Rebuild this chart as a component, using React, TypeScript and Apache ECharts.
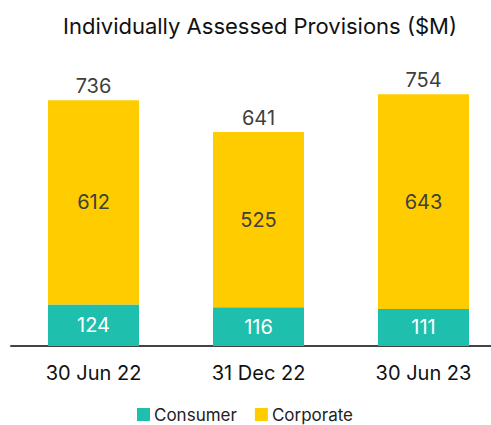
import React, { useEffect, useRef } from "react";
import * as echarts from "echarts";

const categories = ["30 Jun 22", "31 Dec 22", "30 Jun 23"];
const consumer = [124, 116, 111];
const corporate = [612, 525, 643];
const totals = [736, 641, 754];

const FONT = "Inter, 'Noto Sans', sans-serif";

export default function App() {
  const ref = useRef<HTMLDivElement>(null);
  useEffect(() => {
    if (!ref.current) return;
    const chart = echarts.init(ref.current, null, { renderer: "svg" });
    chart.setOption({
      animation: false,
      title: {
        text: "Individually Assessed Provisions ($M)",
        left: 255,
        textAlign: "center",
        top: 10,
        textStyle: { fontFamily: FONT, fontSize: 22, fontWeight: "normal", color: "#111" },
      },
      legend: {
        left: 132,
        top: 401,
        itemWidth: 13,
        itemHeight: 13,
        itemGap: 18,
        icon: "rect",
        data: ["Consumer", "Corporate"],
        textStyle: { fontFamily: FONT, fontSize: 17, color: "#222", padding: [0, 0, 0, -1] },
      },
      grid: { left: 11, top: 79, width: 495, height: 267 },
      xAxis: {
        type: "category",
        data: categories,
        axisLine: { lineStyle: { color: "#444", width: 2 } },
        axisTick: { show: false },
        axisLabel: { fontFamily: FONT, fontSize: 20, color: "#111", margin: 17 },
      },
      yAxis: { type: "value", min: 0, max: 800, show: false, splitLine: { show: false } },
      series: [
        {
          name: "Consumer",
          type: "bar",
          stack: "a",
          barWidth: 91,
          data: consumer,
          itemStyle: { color: "#1FBFAE" },
          label: { show: true, position: "inside", color: "#fff", fontFamily: FONT, fontSize: 20 },
        },
        {
          name: "Corporate",
          type: "bar",
          stack: "a",
          data: corporate,
          itemStyle: { color: "#FFCC00" },
          label: { show: true, position: "inside", color: "#404040", fontFamily: FONT, fontSize: 20 },
        },
        {
          name: "Total",
          type: "bar",
          stack: "a",
          data: totals.map(() => 0),
          itemStyle: { color: "transparent" },
          label: {
            show: true,
            position: "top",
            distance: 4,
            color: "#404040",
            fontFamily: FONT,
            fontSize: 20,
            formatter: (p: any) => String(totals[p.dataIndex]),
          },
        },
      ],
    });
    return () => chart.dispose();
  }, []);
  return (
    <div style={{ width: 491, height: 425, position: "absolute", left: 0, top: 0, overflow: "hidden" }}>
      <div ref={ref} style={{ width: 506, height: 425 }} />
    </div>
  );
}
